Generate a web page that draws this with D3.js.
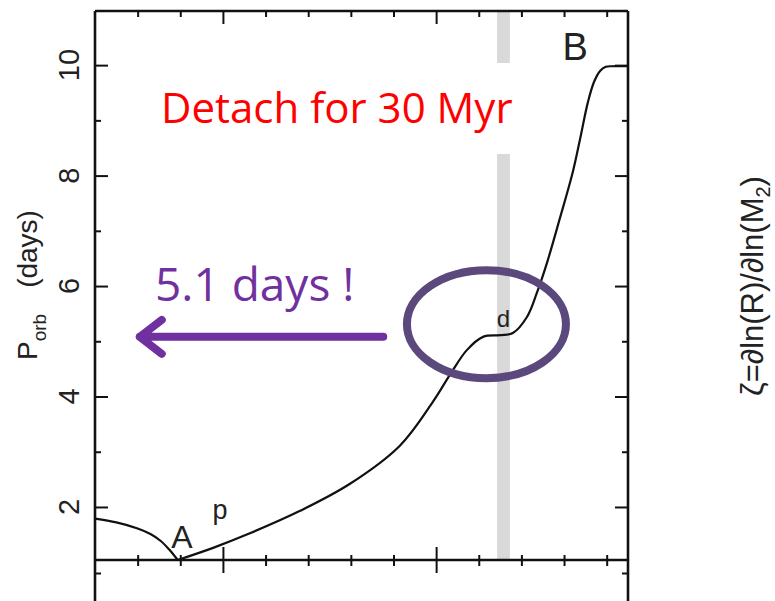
<!DOCTYPE html>
<html>
<head>
<meta charset="utf-8">
<script src="https://cdnjs.cloudflare.com/ajax/libs/d3/7.8.5/d3.min.js"></script>
<style>
  body { margin: 0; background: #fff; }
  svg { display: block; }
  .tick line { stroke: #111; stroke-width: 2px; }
</style>
</head>
<body>
<svg id="chart" width="775" height="601"></svg>
<script>
// orbital period track (days) vs donor evolution
// branch before the A cusp
var preA_x = [-3.0, -2.5, -2.0, -1.7, -1.45, -1.25, -1.06];
var preA_p = [1.79, 1.72, 1.61, 1.51, 1.38, 1.22, 1.04];
// branch from A through d up to B
var postA_x = [-1.06, -0.23, 0.56, 1.81, 2.98, 4.15, 4.93, 5.33, 5.72, 6.10, 6.50, 6.80, 7.13, 7.36, 7.60, 7.90, 8.21, 8.37, 8.56, 8.70, 8.84, 8.98, 9.12, 9.50];
var postA_p = [1.04, 1.26, 1.50, 1.93, 2.42, 3.11, 3.91, 4.40, 4.84, 5.08, 5.11, 5.15, 5.44, 5.87, 6.42, 7.22, 8.08, 8.64, 9.33, 9.69, 9.89, 9.97, 9.98, 9.98];

var majorY = [2, 4, 6, 8, 10];
var minorY = [3, 5, 7, 9];
var majorX = [0, 5];
var minorX = [-2, -1, 1, 2, 3, 4, 6, 7, 8, 9];
var zetaTicks = [0.5];

// detached phase (grey band)
var detachBand = [6.43, 6.73];

// point labels
var pointNames = ["A", "p", "d", "B"];
var pointX = [-0.96, -0.07, 6.58, 8.26];
var pointY = [1.25, 1.78, 5.26, 10.09];
var pointSize = [32, 27, 24, 38];

var svg = d3.select("#chart");

var x = d3.scaleLinear().domain([-3, 9.5]).range([95, 628]);
var y = d3.scaleLinear().domain([1.04, 10.98]).range([560, 11]);
// lower panel (mostly cut off)
var zeta = d3.scaleLinear().domain([0.6, -1]).range([560, 768]);

// grey band
svg.append("rect")
  .attr("x", x(detachBand[0]))
  .attr("y", y.range()[1])
  .attr("width", x(detachBand[1]) - x(detachBand[0]))
  .attr("height", y.range()[0] - y.range()[1])
  .attr("fill", "#d9d9d9");

// ticks
function ticks(axis, tx, ty, vals, size) {
  svg.append("g")
    .attr("transform", "translate(" + tx + "," + ty + ")")
    .call(axis.tickValues(vals).tickSize(size).tickSizeOuter(0).tickFormat(""))
    .call(function(g) { g.select(".domain").remove(); });
}
ticks(d3.axisRight(y), 95, 0, majorY, 13);
ticks(d3.axisRight(y), 95, 0, minorY, 6);
ticks(d3.axisLeft(y), 628, 0, majorY, 13);
ticks(d3.axisLeft(y), 628, 0, minorY, 6);
ticks(d3.axisBottom(x), 0, 11, majorX, 13);
ticks(d3.axisBottom(x), 0, 11, minorX, 6);
ticks(d3.axisTop(x), 0, 560, majorX, 13);
ticks(d3.axisTop(x), 0, 560, minorX, 5);
ticks(d3.axisBottom(x), 0, 560, majorX, 13);
ticks(d3.axisBottom(x), 0, 560, minorX, 6);
ticks(d3.axisRight(zeta), 95, 0, zetaTicks, 6);
ticks(d3.axisLeft(zeta), 628, 0, zetaTicks, 6);

// frame
var frame = svg.append("g").attr("stroke", "#111").attr("stroke-width", 2.6).attr("fill", "none");
frame.append("line").attr("x1", 95).attr("x2", 628).attr("y1", 11).attr("y2", 11);
frame.append("line").attr("x1", 95).attr("x2", 628).attr("y1", 560).attr("y2", 560);
frame.append("line").attr("x1", 95).attr("x2", 95).attr("y1", 11).attr("y2", 601);
frame.append("line").attr("x1", 628).attr("x2", 628).attr("y1", 11).attr("y2", 601);

// y tick labels (rotated)
svg.selectAll("text.ylab").data(majorY).enter().append("text")
  .attr("class", "ylab")
  .attr("transform", function(d) { return "translate(79," + y(d) + ") rotate(-90)"; })
  .attr("text-anchor", "middle")
  .attr("font-family", "Liberation Sans, Arial, sans-serif")
  .attr("font-size", 29)
  .attr("fill", "#222")
  .text(function(d) { return d; });

// y axis title
var yt = svg.append("text")
  .attr("transform", "translate(37,360) rotate(-90)")
  .attr("font-family", "Liberation Sans, Arial, sans-serif")
  .attr("font-size", 28)
  .attr("fill", "#222");
yt.append("tspan").text("P");
yt.append("tspan").attr("font-size", 19).attr("dy", 9).text("orb");
yt.append("tspan").attr("dy", -9).attr("dx", 26).text("(days)");

// zeta label on the right
var zt = svg.append("text")
  .attr("transform", "translate(763,286) rotate(-90)")
  .attr("text-anchor", "middle")
  .attr("font-family", "Liberation Sans, Arial, sans-serif")
  .attr("font-size", 31)
  .attr("fill", "#222");
zt.append("tspan").text("\u03B6=\u2202ln(R)/\u2202ln(M");
zt.append("tspan").attr("font-size", 20).attr("dy", 7).text("2");
zt.append("tspan").attr("dy", -7).text(")");

// the track
var line = d3.line()
  .x(function(d) { return x(d[0]); })
  .y(function(d) { return y(d[1]); })
  .curve(d3.curveCatmullRom.alpha(0.5));

[d3.zip(preA_x, preA_p), d3.zip(postA_x, postA_p)].forEach(function(pts) {
  svg.append("path")
    .datum(pts)
    .attr("d", line)
    .attr("fill", "none")
    .attr("stroke", "#111")
    .attr("stroke-width", 2.2);
});

// point labels
svg.selectAll("text.pt").data(pointNames).enter().append("text")
  .attr("class", "pt")
  .attr("x", function(d, i) { return x(pointX[i]); })
  .attr("y", function(d, i) { return y(pointY[i]); })
  .attr("text-anchor", "middle")
  .attr("font-family", "Liberation Sans, Arial, sans-serif")
  .attr("font-size", function(d, i) { return pointSize[i]; })
  .attr("fill", "#222")
  .text(function(d) { return d; });

// "Detach for 30 Myr" on a white box
svg.append("rect")
  .attr("x", 150).attr("y", 63).attr("width", 370).attr("height", 91)
  .attr("fill", "#fff");
svg.append("text")
  .attr("x", 161).attr("y", 123)
  .attr("font-family", "Open Sans, sans-serif")
  .attr("font-size", 42)
  .attr("fill", "#ff0000")
  .text("Detach for 30 Myr");

// ellipse round the plateau
svg.append("ellipse")
  .attr("cx", x(6.18)).attr("cy", y(5.31))
  .attr("rx", 79.5).attr("ry", 54)
  .attr("fill", "none")
  .attr("stroke", "#5b487c")
  .attr("stroke-width", 8);

// arrow at 5.1 days
var arrowP = 5.08;
var purple = "#7030a0";
svg.append("path")
  .attr("d", "M" + x(3.76) + "," + y(arrowP) + "H" + x(-1.95)
    + "M" + (x(-1.95) + 22) + "," + (y(arrowP) - 17) + "L" + x(-1.95) + "," + y(arrowP)
    + "L" + (x(-1.95) + 22) + "," + (y(arrowP) + 17))
  .attr("fill", "none")
  .attr("stroke", purple)
  .attr("stroke-width", 8)
  .attr("stroke-linecap", "round")
  .attr("stroke-linejoin", "round");

svg.append("text")
  .attr("x", 155).attr("y", 301)
  .attr("font-family", "Open Sans, sans-serif")
  .attr("font-size", 46)
  .attr("fill", purple)
  .text("5.1 days !");
</script>
</body>
</html>
